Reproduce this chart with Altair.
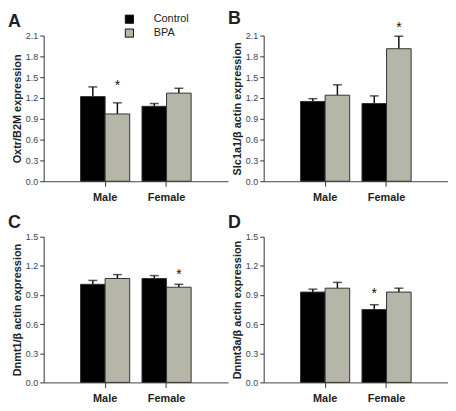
import altair as alt
import pandas as pd

sexes = ["Male", "Female"]
groups = ["Control", "BPA"]
group_colors = ["#000000", "#b5b6a8"]

# order of values: Male-Control, Male-BPA, Female-Control, Female-BPA
oxtr_mean = [1.22, 0.97, 1.08, 1.27]
oxtr_upper = [1.36, 1.13, 1.12, 1.34]
oxtr_star = [0, 1.42, 0, 0]

slc_mean = [1.15, 1.24, 1.12, 1.91]
slc_upper = [1.19, 1.39, 1.23, 2.09]
slc_star = [0, 0, 0, 2.25]

dnmt1_mean = [1.01, 1.07, 1.07, 0.98]
dnmt1_upper = [1.05, 1.11, 1.10, 1.01]
dnmt1_star = [0, 0, 0, 1.14]

dnmt3a_mean = [0.93, 0.97, 0.75, 0.93]
dnmt3a_upper = [0.96, 1.03, 0.80, 0.97]
dnmt3a_star = [0, 0, 0.94, 0]

ticks_a = [0.0, 0.3, 0.6, 0.9, 1.2, 1.5, 1.8, 2.1]
ticks_c = [0.0, 0.3, 0.6, 0.9, 1.2, 1.5]

FONT = "Liberation Sans"
W, H = 186, 147

LEGEND = alt.Legend(title=None, orient="none", legendX=81, legendY=-22,
                    symbolType="square", symbolSize=68,
                    symbolStrokeColor="#111", symbolStrokeWidth=1,
                    labelFontSize=11, labelColor="#222", labelOffset=19,
                    rowPadding=1, padding=0)


def make_df(mean, upper, star):
    rows = []
    i = 0
    for s in sexes:
        for g in groups:
            rows.append({"sex": s, "group": g, "mean": mean[i], "upper": upper[i], "star": star[i]})
            i += 1
    return pd.DataFrame(rows)


def panel(letter, ytitle, mean, upper, star, ticks, title_offset):
    df = make_df(mean, upper, star)
    ymax = ticks[-1]
    yscale = alt.Scale(domain=[0, ymax], nice=False, zero=True)
    base = alt.Chart(df).encode(
        x=alt.X("sex:N", sort=sexes,
                scale=alt.Scale(paddingInner=0.2, paddingOuter=0.6),
                axis=alt.Axis(title=None, labelAngle=0, labelFontWeight="bold",
                              labelFontSize=11, labelColor="#222", labelPadding=5,
                              tickSize=5, tickColor="#333", domainColor="#444",
                              domainWidth=1, grid=False)),
        xOffset=alt.XOffset("group:N", sort=groups,
                            scale=alt.Scale(paddingInner=0, paddingOuter=0)),
    )
    yaxis = alt.Axis(values=ticks, format=".1f", title=ytitle, titleFontSize=11,
                     titleFontWeight="bold", titleColor="#222", titlePadding=3,
                     labelFontSize=9, labelColor="#444", labelPadding=2,
                     labelOverlap=False, labelBound=False, labelFlush=False,
                     tickSize=4, tickColor="#333", domainColor="#333", grid=False)
    rules = base.mark_rule(strokeWidth=1.5, color="#111").encode(
        y=alt.Y("mean:Q", scale=yscale, axis=yaxis), y2="upper:Q")
    bars = base.mark_bar(stroke="#333", strokeWidth=1).encode(
        y=alt.Y("mean:Q", scale=yscale, axis=yaxis),
        color=alt.Color("group:N", sort=groups,
                        scale=alt.Scale(domain=groups, range=group_colors),
                        legend=LEGEND),
    )
    caps = base.mark_tick(size=9, thickness=1.5, color="#111").encode(
        y=alt.Y("upper:Q", scale=yscale, axis=yaxis))
    stars = base.transform_filter("datum.star > 0").mark_text(
        text="*", fontSize=14, baseline="middle", dy=3, color="#111", font=FONT
    ).encode(y=alt.Y("star:Q", scale=yscale, axis=yaxis))
    return alt.layer(rules, bars, caps, stars).properties(
        width=W, height=H,
        title=alt.TitleParams(letter, anchor="start", frame="group", fontSize=18,
                              fontWeight="bold", color="#222", dx=-36,
                              offset=title_offset),
    )


pa = panel("A", "Oxtr/B2M expression", oxtr_mean, oxtr_upper, oxtr_star, ticks_a, 1)
pb = panel("B", "Slc1a1/β actin expression", slc_mean, slc_upper, slc_star, ticks_a, -7)
pc = panel("C", "Dnmt1/β actin expression", dnmt1_mean, dnmt1_upper, dnmt1_star, ticks_c, 1)
pd_ = panel("D", "Dnmt3a/β actin expression", dnmt3a_mean, dnmt3a_upper, dnmt3a_star, ticks_c, 1)

chart = alt.concat(
    pa, pb, pc, pd_, columns=2, spacing={"row": 56, "column": 36}, bounds="flush"
).resolve_scale(
    x="independent", y="independent"
).properties(padding=0).configure(font=FONT, background="white").configure_view(
    stroke=None
).configure_axisY(labelOverlap=False)

chart.save("out.html", embed_options={"renderer": "svg", "actions": False})
